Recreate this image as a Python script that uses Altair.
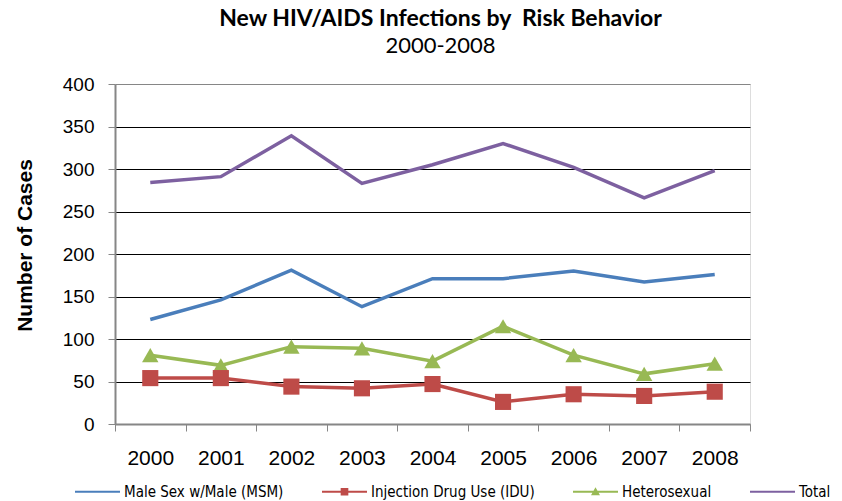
import altair as alt
import pandas as pd

# Annual new HIV/AIDS cases by risk behavior
years = ["2000", "2001", "2002", "2003", "2004", "2005", "2006", "2007", "2008"]
msm = [123, 146, 181, 138, 171, 171, 180, 167, 176]
idu = [54, 54, 44, 42, 47, 26, 35, 33, 38]
hetero = [81, 69, 91, 89, 74, 115, 81, 59, 71]
total = [284, 291, 339, 283, 305, 330, 302, 266, 298]

series_names = ["Male Sex w/Male (MSM)", "Injection Drug Use (IDU)", "Heterosexual", "Total"]
series_colors = ["#4A7EBB", "#BE4B48", "#98B954", "#7D60A0"]
y_ticks = [0, 50, 100, 150, 200, 250, 300, 350, 400]

# legend glyphs: a line segment with the series marker on it
legend_shapes = [
    "M-1,-0.045H1V0.045H-1Z",
    "M-1,-0.045H1V0.045H-1Z M-0.17,-0.17H0.17V0.17H-0.17Z",
    "M-1,-0.045H1V0.045H-1Z M0,-0.2L0.2,0.16H-0.2Z",
    "M-1,-0.045H1V0.045H-1Z",
]

rows = []
for name, vals in zip(series_names, [msm, idu, hetero, total]):
    for yr, v in zip(years, vals):
        rows.append({"Year": yr, "Series": name, "Cases": v})
df = pd.DataFrame(rows)

AXIS_FONT = "Liberation Sans"
LEGEND_FONT = "'DejaVu Sans Condensed', 'Liberation Sans', sans-serif"
GRID = {"condition": {"test": "datum.value === 0 || datum.value === 400", "value": "#868686"},
        "value": "#000000"}

x_enc = alt.X(
    "Year:N",
    sort=years,
    scale=alt.Scale(paddingInner=0, paddingOuter=0),
    axis=alt.Axis(
        title=None, labelAngle=0, tickBand="extent", labelFont=AXIS_FONT,
        labelFontSize=21, labelColor="#000000", labelPadding=16, tickSize=7,
        tickColor="#868686", domainColor="#868686", domainWidth=2, grid=False,
    ),
)
y_enc = alt.Y(
    "Cases:Q",
    scale=alt.Scale(domain=[0, 400], nice=False),
    axis=alt.Axis(
        values=y_ticks, title="Number of Cases", titleFont=AXIS_FONT, titleFontSize=21,
        titleFontWeight="bold", titleColor="#000000", titleAngle=270, titleX=-90,
        titleY=161, titleAlign="center", titleBaseline="middle",
        labelFont=AXIS_FONT, labelFontSize=19, labelColor="#000000", labelPadding=14,
        tickSize=7, tickColor="#868686", domainColor="#868686", domainWidth=2,
        grid=True, gridColor=GRID, gridWidth=1.2,
    ),
)

legend = alt.Legend(
    title=None, orient="none", direction="horizontal", columns=4,
    legendX=-40, legendY=385, columnPadding=38, symbolSize=2025,
    symbolOpacity=1, symbolStrokeWidth=0, labelOffset=4,
    labelFont=LEGEND_FONT, labelFontSize=15, labelColor="#000000",
    labelLimit=300,
)
color_enc = alt.Color(
    "Series:N",
    scale=alt.Scale(domain=series_names, range=series_colors),
    legend=legend,
)

lines = alt.Chart(df).mark_line(strokeWidth=3.5).encode(x=x_enc, y=y_enc, color=color_enc)

squares = alt.Chart(df).transform_filter(
    alt.datum.Series == "Injection Drug Use (IDU)"
).mark_point(shape="square", filled=True, size=260, opacity=1).encode(
    x=x_enc, y=y_enc, color=color_enc
)

triangles = alt.Chart(df).transform_filter(
    alt.datum.Series == "Heterosexual"
).mark_point(shape="triangle-up", filled=True, size=270, opacity=1).encode(
    x=x_enc, y=y_enc, color=color_enc
)

legend_layer = alt.Chart(df).mark_point(filled=True, opacity=0).encode(
    x=x_enc,
    y=y_enc,
    color=color_enc,
    shape=alt.Shape("Series:N", scale=alt.Scale(domain=series_names, range=legend_shapes),
                    legend=legend),
)

chart = alt.layer(lines, triangles, squares, legend_layer).properties(
    width=635,
    height=340,
    autosize=alt.AutoSizeParams(type="none"),
    padding={"left": 115, "top": 84, "right": 92, "bottom": 77},
    title=alt.TitleParams(
        text="New HIV/AIDS Infections by \u00a0Risk Behavior",
        subtitle="2000-2008",
        font="Lato", fontSize=23, fontWeight="bold", color="#000000",
        subtitleFont="Lato", subtitleFontSize=22, subtitleColor="#000000",
        subtitlePadding=5, anchor="middle", dx=8, offset=18,
    ),
).configure_view(
    fill="#FFFFCC", stroke="#868686", strokeWidth=2
).configure(background="#FFFFFF")

chart.save("out.html", embed_options={"renderer": "svg", "actions": False})
